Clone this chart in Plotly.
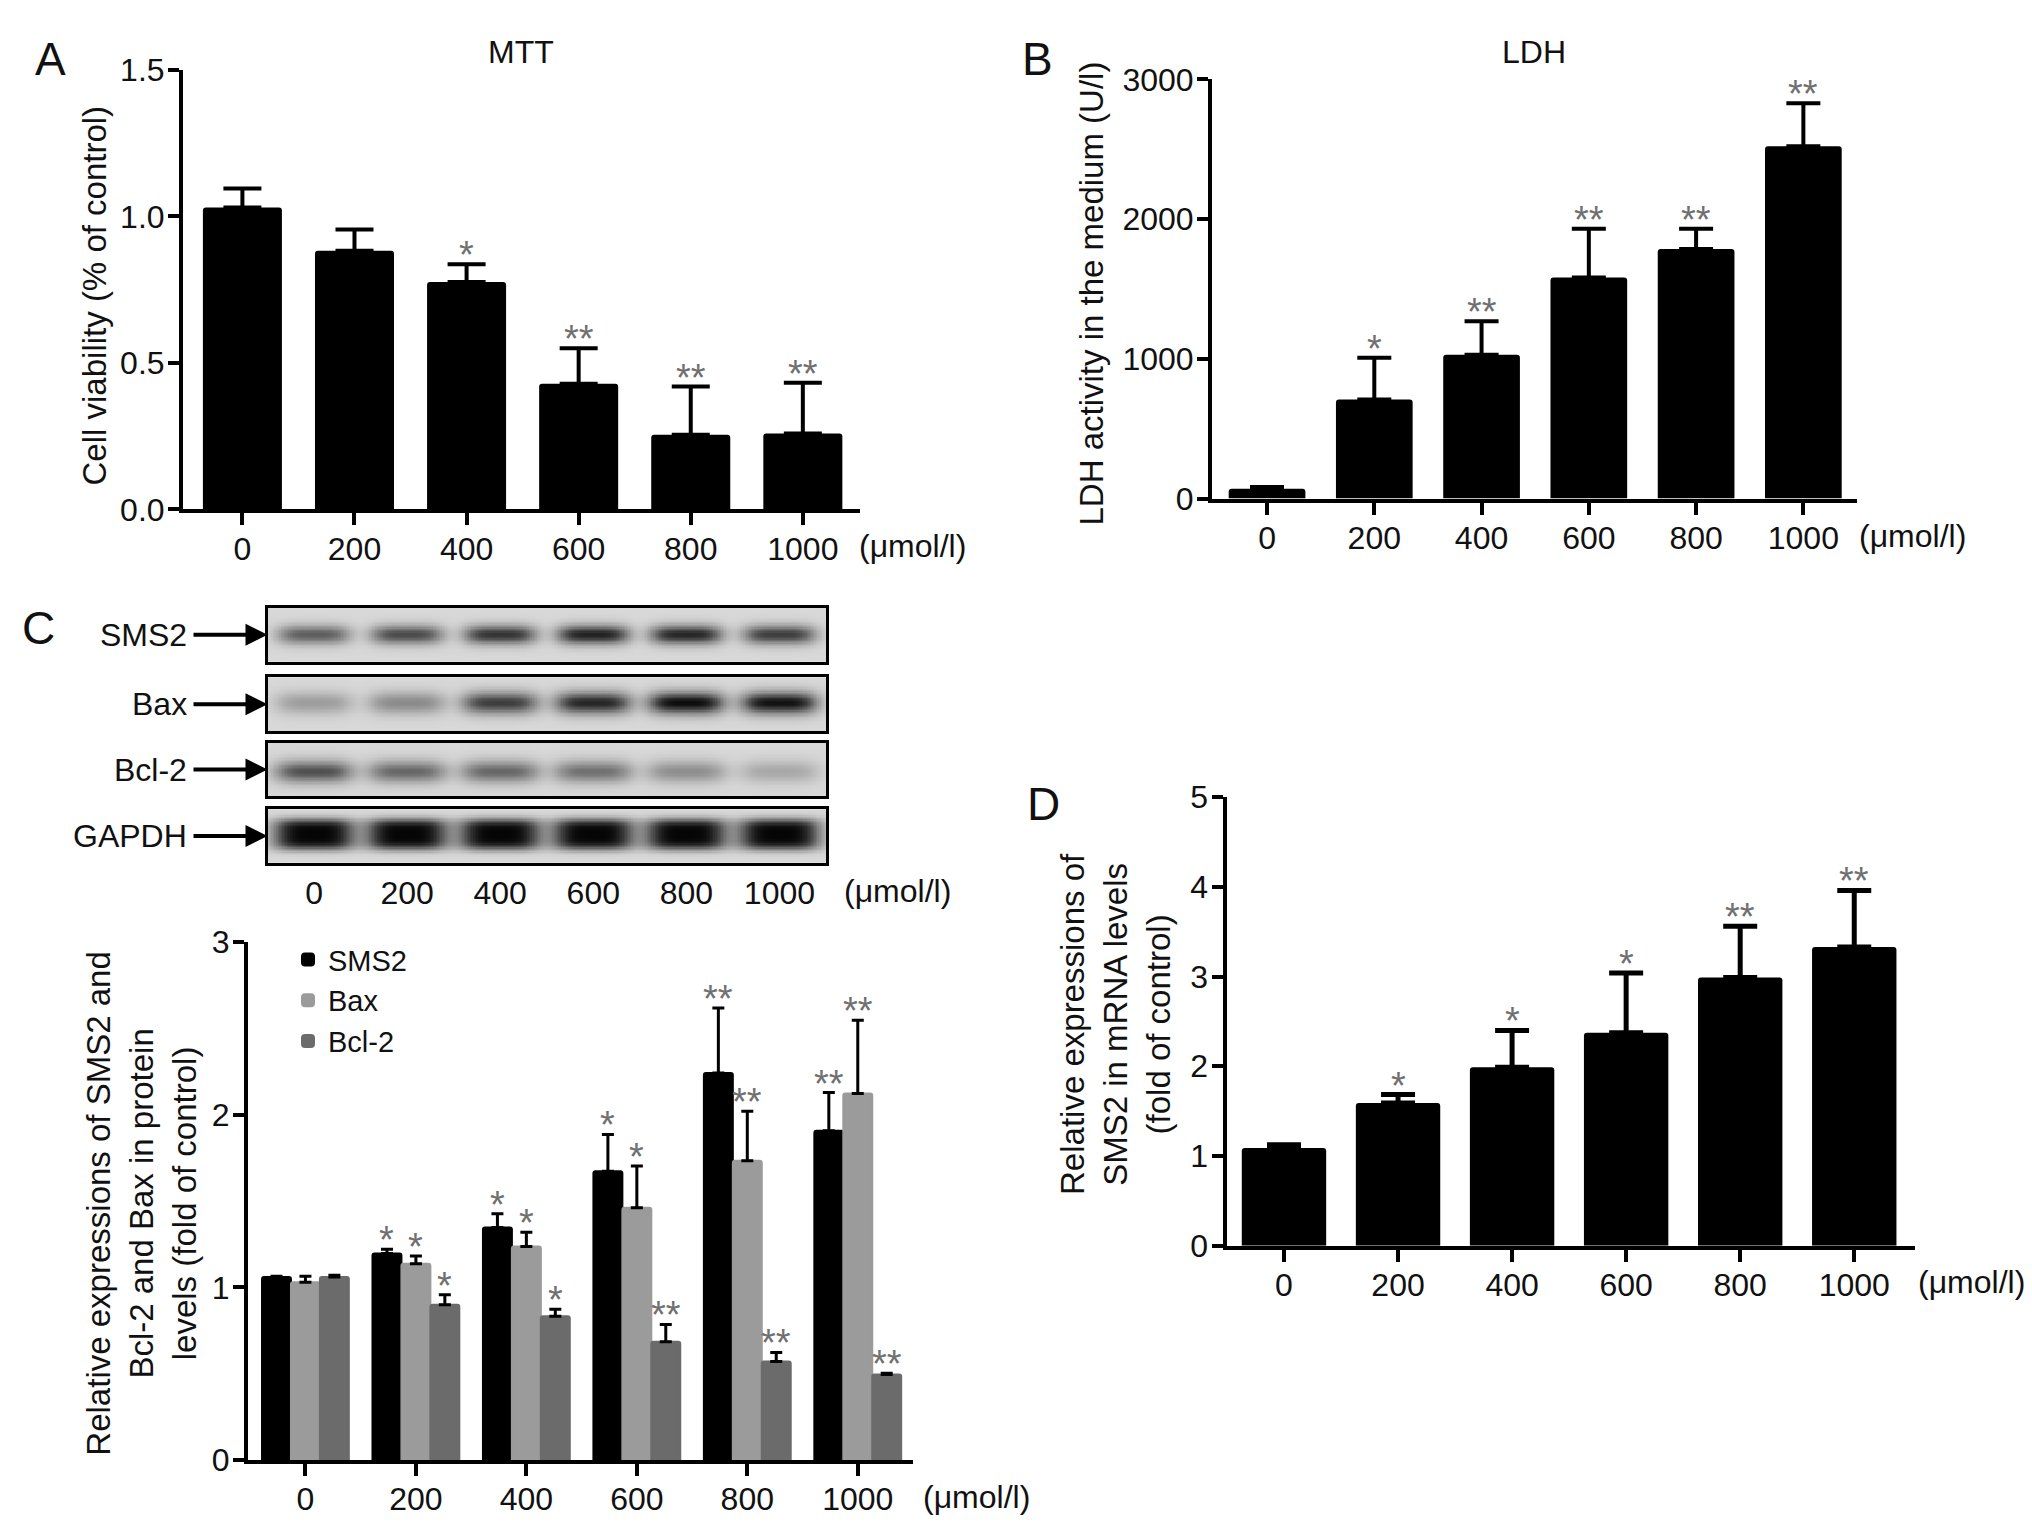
import numpy as np
import plotly.graph_objects as go

W, H = 2032, 1531
FONT = "Liberation Sans, Arial, Helvetica, sans-serif"
INK = "#111111"
STAR = "#707070"

doses = ["0", "200", "400", "600", "800", "1000"]
unit = "(μmol/l)"

# A - MTT
mtt_mean = [1.03, 0.883, 0.776, 0.429, 0.255, 0.259]
mtt_err = [0.065, 0.072, 0.061, 0.121, 0.164, 0.173]
mtt_sig = ["", "", "*", "**", "**", "**"]

# B - LDH
ldh_mean = [70, 709, 1030, 1583, 1786, 2522]
ldh_err = [14, 299, 240, 348, 145, 307]
ldh_sig = ["", "*", "**", "**", "**", "**"]

# C - western blot band darkness (0..1)
blot_rows = ["SMS2", "Bax", "Bcl-2", "GAPDH"]
band_sms2 = [0.62, 0.70, 0.80, 0.88, 0.86, 0.76]
band_bax = [0.32, 0.42, 0.76, 0.86, 0.97, 0.95]
band_bcl2 = [0.68, 0.58, 0.58, 0.54, 0.40, 0.26]
band_gapdh = [1.0, 1.0, 1.0, 1.0, 1.0, 1.0]

# C - protein levels
proteins = ["SMS2", "Bax", "Bcl-2"]
sms2_prot = [1.06, 1.196, 1.347, 1.673, 2.242, 1.907]
sms2_prot_err = [0.005, 0.025, 0.08, 0.213, 0.377, 0.222]
bax_prot = [1.03, 1.137, 1.237, 1.461, 1.734, 2.123]
bax_prot_err = [0.035, 0.045, 0.083, 0.242, 0.287, 0.425]
bcl2_prot = [1.06, 0.90, 0.833, 0.685, 0.571, 0.495]
bcl2_prot_err = [0.01, 0.057, 0.041, 0.10, 0.052, 0.007]
sms2_sig = ["", "*", "*", "*", "**", "**"]
bax_sig = ["", "*", "*", "*", "**", "**"]
bcl2_sig = ["", "*", "*", "**", "**", "**"]

# D - mRNA
mrna_mean = [1.09, 1.59, 1.99, 2.375, 2.99, 3.33]
mrna_err = [0.035, 0.095, 0.41, 0.665, 0.57, 0.63]
mrna_sig = ["", "*", "*", "*", "**", "**"]


def px_x(v):
    return v / W


def px_y(v):
    return 1 - v / H


fig = go.Figure()


def simple_bars(xa, ya, means, errs, width, cap, thick):
    fig.add_trace(go.Bar(
        x=doses, y=means, xaxis=xa, yaxis=ya, width=width,
        marker=dict(color="black", line=dict(width=0), cornerradius=3),
        error_y=dict(type="data", array=errs, arrayminus=[0] * len(errs),
                     symmetric=False, color="black", thickness=thick, width=cap),
        showlegend=False, hoverinfo="skip"))


simple_bars("x", "y", mtt_mean, mtt_err, 0.705, 19, 4)
simple_bars("x2", "y2", ldh_mean, ldh_err, 0.715, 17, 4)
simple_bars("x4", "y4", mrna_mean, mrna_err, 0.74, 17, 5)

# grouped protein bars
prot_means = [sms2_prot, bax_prot, bcl2_prot]
prot_errs = [sms2_prot_err, bax_prot_err, bcl2_prot_err]
prot_colors = ["#000000", "#9b9b9b", "#6b6b6b"]
bar_w = 0.262
prot_offsets = [-1.5 * bar_w, -0.5 * bar_w, 0.5 * bar_w]
for name, m, e, c, off in zip(proteins, prot_means, prot_errs, prot_colors, prot_offsets):
    fig.add_trace(go.Bar(
        x=doses, y=m, name=name, xaxis="x3", yaxis="y3", width=bar_w, offset=off,
        marker=dict(color=c, line=dict(width=2, color=c), cornerradius=2),
        error_y=dict(type="data", array=e, arrayminus=[0] * len(e), symmetric=False,
                     color="black", thickness=3, width=6),
        hoverinfo="skip"))

# western blot rows as heatmaps
band_vals = [band_sms2, band_bax, band_bcl2, band_gapdh]
band_style = [
    dict(cy=0.50, sy=0.18, hw=0.40, py=2),
    dict(cy=0.52, sy=0.21, hw=0.42, py=2),
    dict(cy=0.46, sy=0.21, hw=0.43, py=2),
    dict(cy=0.53, sy=0.30, hw=0.45, py=4),
]
gx = np.linspace(0, 6, 361)
gy = np.linspace(0, 1, 41)
for k, (vals, st) in enumerate(zip(band_vals, band_style)):
    z = np.zeros((gy.size, gx.size))
    prof_y = np.exp(-np.abs((gy - st["cy"]) / st["sy"]) ** st["py"])
    for i, v in enumerate(vals):
        prof_x = np.exp(-((gx - (i + 0.5)) / st["hw"]) ** 4)
        z += v * np.outer(prof_y, prof_x)
    z = np.clip(z, 0, 1)
    fig.add_trace(go.Heatmap(
        x=gx, y=gy, z=z, xaxis="x%d" % (k + 5), yaxis="y%d" % (k + 5),
        zmin=0, zmax=1, showscale=False, hoverinfo="skip",
        colorscale=[[0, "#d8d8d8"], [0.45, "#858585"], [1, "#050505"]]))

tick_font = dict(family=FONT, size=32, color=INK)


def cat_xaxis(x0, x1, rng, anchor):
    return dict(domain=[px_x(x0), px_x(x1)], anchor=anchor, type="category", range=rng,
                showline=True, linewidth=4, linecolor="black", ticks="outside",
                ticklen=12, tickwidth=4, tickcolor="black", tickfont=tick_font,
                ticklabelstandoff=-4, showgrid=False, zeroline=False, fixedrange=True)


def val_yaxis(yb, yt, rng, dtick, anchor, fmt=""):
    return dict(domain=[px_y(yb), px_y(yt)], anchor=anchor, range=rng, dtick=dtick,
                tick0=0, tickformat=fmt, showline=True, linewidth=4, linecolor="black",
                ticks="outside", ticklen=11, tickwidth=4, tickcolor="black",
                tickfont=tick_font, ticklabelstandoff=-3, showgrid=False,
                zeroline=False, fixedrange=True)


layout_axes = dict(
    xaxis=cat_xaxis(175, 852, [-0.53, 5.51], "y"),
    yaxis=val_yaxis(495, 45, [0, 1.5], 0.5, "x", ".1f"),
    xaxis2=cat_xaxis(1204, 1849, [-0.513, 5.50], "y2"),
    yaxis2=val_yaxis(484, 54.7, [0, 3000], 1000, "x2"),
    xaxis3=cat_xaxis(240, 905, [-0.52, 5.50], "y3"),
    yaxis3=val_yaxis(1468.5, 938.3, [0, 3], 1, "x3"),
    xaxis4=cat_xaxis(1218.5, 1906.7, [-0.504, 5.53], "y4"),
    yaxis4=val_yaxis(1249, 789.8, [0, 5], 1, "x4"),
)

blot_boxes = [(596, 651), (667, 722), (734, 789), (802, 857)]
for k, (top, bot) in enumerate(blot_boxes):
    last = k == len(blot_boxes) - 1
    layout_axes["xaxis%d" % (k + 5)] = dict(
        domain=[px_x(259.5), px_x(818)], anchor="y%d" % (k + 5), range=[0, 6],
        showline=True, mirror=True, linewidth=2.5, linecolor="black", ticks="",
        showticklabels=last, tickvals=[i + 0.5 for i in range(6)], ticktext=doses,
        tickfont=tick_font, ticklabelstandoff=0, showgrid=False, zeroline=False,
        fixedrange=True)
    layout_axes["yaxis%d" % (k + 5)] = dict(
        domain=[px_y(bot), px_y(top)], anchor="x%d" % (k + 5), range=[0, 1],
        showline=True, mirror=True, linewidth=2.5, linecolor="black", ticks="",
        showticklabels=False, showgrid=False, zeroline=False, fixedrange=True)

notes = []


def text_note(x, y, text, size=32, xanchor="center", **kw):
    d = dict(x=px_x(x), y=px_y(y), xref="paper", yref="paper", text=text, showarrow=False,
             xanchor=xanchor, yanchor="middle", font=dict(family=FONT, size=size, color=INK))
    d.update(kw)
    notes.append(d)


# panel letters and titles
text_note(42, 34, "A", size=46)
text_note(1029, 34, "B", size=46)
text_note(30, 617, "C", size=46)
text_note(1035, 797, "D", size=46)
text_note(513, 27, "MTT")
text_note(1526, 27, "LDH")

# y titles
text_note(87, 276, "Cell viability (% of control)", size=33, textangle=-90)
text_note(1084, 274, "LDH activity in the medium (U/l)", size=33, textangle=-90)
text_note(134, 1206, "Relative expressions of SMS2 and<br>Bcl-2 and Bax in protein<br>levels (fold of control)",
          size=33, textangle=-90)
text_note(1108, 1022, "Relative expressions of<br>SMS2 in mRNA levels<br>(fold of control)",
          size=33, textangle=-90)

# unit labels
text_note(849, 533, unit, xanchor="left")
text_note(1849, 522, unit, xanchor="left")
text_note(834, 886, unit, xanchor="left")
text_note(913, 1506, unit, xanchor="left")
text_note(1908, 1286, unit, xanchor="left")

# blot labels with arrows
for name, (top, bot) in zip(blot_rows, blot_boxes):
    notes.append(dict(x=px_x(259.5), y=px_y((top + bot) / 2), xref="paper", yref="paper",
                      text=name, showarrow=True, ax=-74, ay=0, xanchor="right", borderpad=6,
                      arrowhead=2, arrowsize=1.1, arrowwidth=4, arrowcolor="black",
                      font=dict(family=FONT, size=32, color=INK)))


def star_notes(xref, yref, means, errs, sigs, offset=0.0):
    for i, (m, e, s) in enumerate(zip(means, errs, sigs)):
        if s:
            notes.append(dict(x=i + offset, y=m + e, xref=xref, yref=yref, text=s,
                              showarrow=False, xanchor="center", yanchor="bottom", yshift=-14,
                              font=dict(family=FONT, size=38, color=STAR)))


star_notes("x", "y", mtt_mean, mtt_err, mtt_sig)
star_notes("x2", "y2", ldh_mean, ldh_err, ldh_sig)
star_notes("x4", "y4", mrna_mean, mrna_err, mrna_sig)
for m, e, s, off in zip(prot_means, prot_errs, [sms2_sig, bax_sig, bcl2_sig], prot_offsets):
    star_notes("x3", "y3", m, e, s, offset=off + bar_w / 2)

fig.update_layout(
    width=W, height=H, margin=dict(l=0, r=0, t=0, b=0),
    paper_bgcolor="white", plot_bgcolor="white",
    font=dict(family=FONT, size=32, color=INK),
    barmode="overlay",
    showlegend=True,
    legend=dict(x=px_x(280), y=px_y(930), xanchor="left", yanchor="top",
                font=dict(family=FONT, size=29, color=INK), bgcolor="rgba(0,0,0,0)",
                tracegroupgap=0, itemclick=False, itemdoubleclick=False),
    annotations=notes,
    **layout_axes,
)

fig.write_html("out.html")
